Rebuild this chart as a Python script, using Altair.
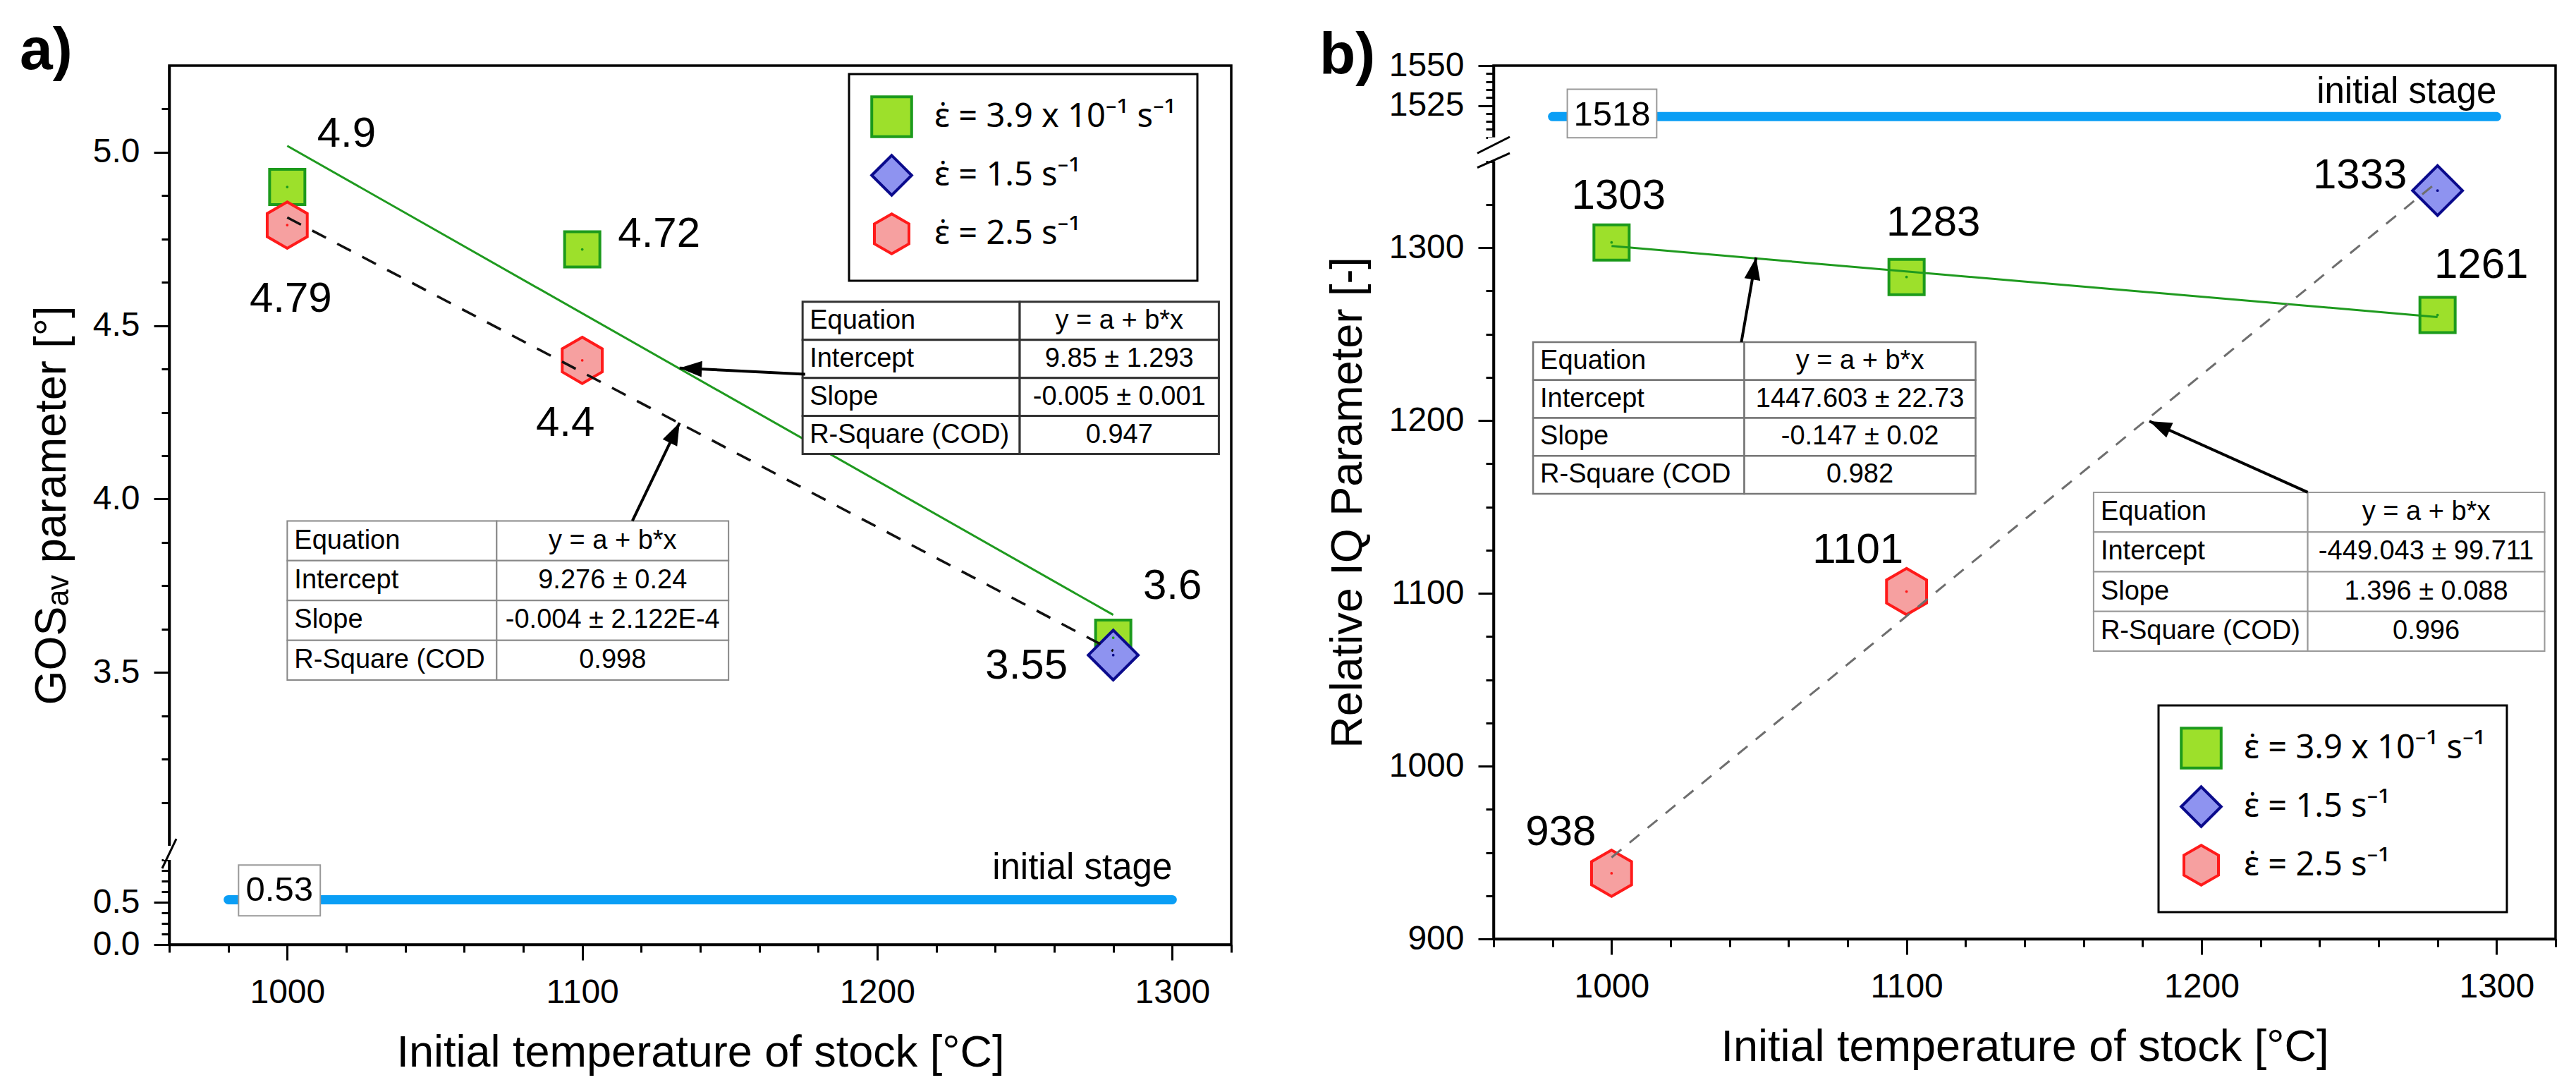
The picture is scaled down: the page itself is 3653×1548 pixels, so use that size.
import json
import math
import altair as alt
import pandas as pd

FONT = "Liberation Sans, Arial, sans-serif"
LEGEND_FONT = "Noto Sans, DejaVu Sans, sans-serif"

# ---------------- data ----------------
SERIES = ["ε̇ = 3.9 x 10⁻¹ s⁻¹", "ε̇ = 1.5 s⁻¹", "ε̇ = 2.5 s⁻¹"]

TEMP_A = [1000, 1100, 1280, 1280, 1000, 1100]
GOS_A = [4.9, 4.72, 3.6, 3.55, 4.79, 4.4]
SER_A = [0, 0, 0, 1, 2, 2]
LABEL_A = ["4.9", "4.72", "3.6", "3.55", "4.79", "4.4"]

TEMP_B = [1000, 1100, 1280, 1280, 1000, 1100]
IQ_B = [1303, 1283, 1261, 1333, 938, 1101]
SER_B = [0, 0, 0, 1, 2, 2]
LABEL_B = ["1303", "1283", "1261", "1333", "938", "1101"]

INITIAL_T = [980, 1300]
INITIAL_A = 0.53
INITIAL_B = 1518
FIT_EXTENT = [1000, 1280]

ROWS = ["Equation", "Intercept", "Slope", "R-Square (COD)"]
ROWS_CUT = ["Equation", "Intercept", "Slope", "R-Square (COD"]
FIT_A_SOLID = ["y = a + b*x", "9.85 ± 1.293", "-0.005 ± 0.001", "0.947"]
FIT_A_DASH = ["y = a + b*x", "9.276 ± 0.24", "-0.004 ± 2.122E-4", "0.998"]
FIT_B_SOLID = ["y = a + b*x", "1447.603 ± 22.73", "-0.147 ± 0.02", "0.982"]
FIT_B_DASH = ["y = a + b*x", "-449.043 ± 99.711", "1.396 ± 0.088", "0.996"]

X_TICKS = list(range(960, 1321, 20))
X_MAJOR = [1000, 1100, 1200, 1300]
Y_TICKS_A = [i * 0.125 for i in range(0, 9)] + [3 + i * 0.125 for i in range(1, 18)]
Y_MAJOR_A = [0, 0.5, 3.5, 4, 4.5, 5]
Y_TICKS_B = list(range(900, 1351, 25)) + list(range(1505, 1551, 5))
Y_MAJOR_B = [900, 1000, 1100, 1200, 1300, 1525, 1550]

# ---------------- style / layout ----------------
SER_SHAPE = ["square", "diamond",
             "M0,-1L0.866,-0.5L0.866,0.5L0,1L-0.866,0.5L-0.866,-0.5Z"]
SER_FILL = ["#9de02b", "#8e93f0", "#f6a0a0"]
SER_STROKE = ["#1c9a1c", "#0a0a8c", "#ff1a1a"]
SER_SIZE = [2500, 5000, 4300]
ARROW_PATH = "M0,0L0.36,1L-0.36,1Z"

W = 1506
HA = 1246
HB = 1238
X_DOMAIN = [960, 1320]
PX_X = W / (X_DOMAIN[1] - X_DOMAIN[0])


def axis(values, major, fmt, title, label_pad, title_pad):
    test = "indexof(%s, datum.value) >= 0" % json.dumps(major)
    return alt.Axis(
        values=values, format=fmt, title=title,
        labelExpr="%s ? datum.label : ''" % test,
        tickSize={"condition": {"test": test, "value": 22}, "value": 11},
        tickWidth=3, tickColor="black", domainColor="black", domainWidth=3.5,
        labelFont=FONT, labelFontSize=48, labelColor="black", labelPadding=label_pad,
        labelOverlap=False, labelFlush=False, labelBound=False,
        titleFont=FONT, titleFontSize=63, titleFontWeight="normal", titleColor="black",
        titlePadding=title_pad, grid=False)


def build_panel(c):
    xs = alt.Scale(domain=X_DOMAIN, nice=False, zero=False)
    ys = alt.Scale(domain=c["ydom"], range=c["yrng"], nice=False, zero=False)
    xax = axis(X_TICKS, X_MAJOR, "d", "Initial temperature of stock [°C]", 22, 30)
    yax = axis(c["yticks"], c["ymajor"], c["yfmt"], c["ytitle"], 20, 26)

    def X(f):
        return alt.X(f, type="quantitative", scale=xs, axis=xax)

    def Y(f):
        return alt.Y(f, type="quantitative", scale=ys, axis=yax)

    df = pd.DataFrame({"T": c["T"], "v": c["v"], "s": c["s"], "lab": c["lab"]})
    df["rate"] = [SERIES[i] for i in df["s"]]
    df["sz"] = [SER_SIZE[i] for i in df["s"]]

    layers = []

    # axis-break eraser
    brk = pd.DataFrame({"x": [X_DOMAIN[0]], "y0": [c["ydom"][1]], "y1": [c["ydom"][2]]})
    layers.append(alt.Chart(brk).mark_rule(color="white", strokeWidth=16)
                  .encode(x=X("x"), y=Y("y0"), y2="y1"))

    # initial stage line
    init = pd.DataFrame({"x0": [INITIAL_T[0]], "x1": [INITIAL_T[1]], "v": [c["init"]]})
    layers.append(alt.Chart(init).mark_rule(color="#0a9ef5", strokeWidth=13, strokeCap="round")
                  .encode(x=X("x0"), x2="x1", y=Y("v")))
    layers.append(alt.Chart(init).mark_text(align="right", baseline="alphabetic", dy=c["init_dy"],
                                            fontSize=51, font=FONT, color="black", text="initial stage")
                  .encode(x=X("x1"), y=Y("v")))
    bx = c["box"]
    bdf = pd.DataFrame({"x0": [bx[0]], "x1": [bx[1]], "y0": [bx[2]], "y1": [bx[3]],
                        "xm": [(bx[0] + bx[1]) / 2], "ym": [(bx[2] + bx[3]) / 2],
                        "t": [c["init_txt"]]})
    layers.append(alt.Chart(bdf).mark_rect(fill="white", stroke="#999999", strokeWidth=2)
                  .encode(x=X("x0"), x2="x1", y=Y("y0"), y2="y1"))
    layers.append(alt.Chart(bdf).mark_text(fontSize=49, font=FONT, color="black", baseline="middle")
                  .encode(x=X("xm"), y=Y("ym"), text="t:N"))

    # markers
    leg = alt.Legend(orient="none", legendX=c["legxy"][0], legendY=c["legxy"][1], title=None,
                     direction="vertical", labelFontSize=47, labelFont=LEGEND_FONT, labelColor="black",
                     labelOffset=30, padding=30, rowPadding=10, strokeColor="black",
                     fillColor="white", symbolStrokeWidth=4, symbolSize=3200, labelLimit=0,
                     symbolOpacity=1)
    layers.append(alt.Chart(df).mark_point(filled=True, strokeWidth=4, opacity=1).encode(
        x=X("T"), y=Y("v"),
        shape=alt.Shape("rate:N", scale=alt.Scale(domain=SERIES, range=SER_SHAPE), legend=leg),
        fill=alt.Fill("rate:N", scale=alt.Scale(domain=SERIES, range=SER_FILL), legend=leg),
        stroke=alt.Stroke("rate:N", scale=alt.Scale(domain=SERIES, range=SER_STROKE), legend=leg),
        size=alt.Size("sz:Q", scale=None),
    ))

    # fitted lines
    layers.append(alt.Chart(df).transform_filter(alt.FieldOneOfPredicate(field="s", oneOf=[0]))
                  .transform_regression("T", "v", extent=FIT_EXTENT)
                  .mark_line(color="#1f9a1f", strokeWidth=3).encode(x=X("T"), y=Y("v")))
    layers.append(alt.Chart(df).transform_filter(alt.FieldOneOfPredicate(field="s", oneOf=[1, 2]))
                  .transform_regression("T", "v", extent=FIT_EXTENT)
                  .mark_line(color=c["dash_color"], strokeWidth=c["dash_w"], strokeDash=c["dash"])
                  .encode(x=X("T"), y=Y("v")))

    # center dots
    layers.append(alt.Chart(df).mark_point(filled=True, size=14, opacity=1, shape="circle").encode(
        x=X("T"), y=Y("v"),
        color=alt.Color("rate:N", scale=alt.Scale(domain=SERIES, range=SER_STROKE), legend=None)))

    # fit tables
    for (x0, xsp, x1, yt, yb, names, vals, col, sw) in c["tables"]:
        h = (yt - yb) / 4.0
        cells = []
        for i in range(4):
            for (a, b) in ((x0, xsp), (xsp, x1)):
                cells.append({"cx0": a, "cx1": b, "cy0": yt - i * h, "cy1": yt - (i + 1) * h})
        layers.append(alt.Chart(pd.DataFrame(cells)).mark_rect(fill="white", stroke=col, strokeWidth=sw)
                      .encode(x=X("cx0"), x2="cx1", y=Y("cy0"), y2="cy1"))
        tdf = pd.DataFrame({"name": names, "val": vals,
                            "ym": [yt - (i + 0.5) * h for i in range(4)],
                            "xl": [x0] * 4, "xc": [(xsp + x1) / 2] * 4})
        layers.append(alt.Chart(tdf).mark_text(align="left", dx=10, baseline="middle", fontSize=38,
                                               font=FONT, color="black")
                      .encode(x=X("xl"), y=Y("ym"), text="name:N"))
        layers.append(alt.Chart(tdf).mark_text(align="center", baseline="middle", fontSize=38,
                                               font=FONT, color="black")
                      .encode(x=X("xc"), y=Y("ym"), text="val:N"))

    # arrows
    arr = pd.DataFrame(c["arrows"], columns=["tx", "ty", "hx", "hy"])
    arr["ang"] = [
        (math.degrees(math.atan2((hx - tx) * PX_X, (hy - ty) * c["ppu"])) + 360) % 360
        for tx, ty, hx, hy in c["arrows"]]
    layers.append(alt.Chart(arr).mark_rule(color="black", strokeWidth=4)
                  .encode(x=X("tx"), y=Y("ty"), x2="hx", y2="hy"))
    layers.append(alt.Chart(arr).mark_point(filled=True, shape=ARROW_PATH, size=4000, color="black", opacity=1)
                  .encode(x=X("hx"), y=Y("hy"), angle=alt.Angle("ang:Q", scale=None)))

    # value labels
    for i in range(len(df)):
        dx, dy = c["offs"][i]
        layers.append(alt.Chart(df.iloc[[i]]).mark_text(dx=dx, dy=dy, fontSize=60, font=FONT,
                                                        color="black", baseline="middle")
                      .encode(x=X("T"), y=Y("v"), text="lab:N"))

    # break slashes
    sl = pd.DataFrame(c["slashes"], columns=["x0", "y0", "x1", "y1"])
    layers.append(alt.Chart(sl).mark_rule(color="black", strokeWidth=3)
                  .encode(x=X("x0"), y=Y("y0"), x2="x1", y2="y1"))

    # panel tag
    layers.append(alt.Chart(pd.DataFrame({"t": [c["tag"]]}))
                  .mark_text(align="left", baseline="alphabetic", fontSize=84, fontWeight="bold",
                             font=FONT, color="black")
                  .encode(x=alt.value(c["tagxy"][0]), y=alt.value(c["tagxy"][1]), text="t:N"))

    return alt.layer(*layers).properties(width=W, height=c["H"])


cfg_a = dict(
    T=TEMP_A, v=GOS_A, s=SER_A, lab=LABEL_A, H=HA,
    ydom=[0, 1.0, 3.0, 5.25], yrng=[HA, HA - 120, HA - 140, 0],
    yticks=Y_TICKS_A, ymajor=Y_MAJOR_A, yfmt=".1f", ytitle="GOSₐᵥ parameter [°]",
    init=INITIAL_A, init_txt="0.53", init_dy=-29, box=[983.5, 1011.2, 0.34, 0.94],
    legxy=[964, 12], dash_color="#111111", dash_w=3.5, dash=[22, 18],
    tables=[(1174.7, 1248.3, 1315.8, 4.569, 4.13, ROWS, FIT_A_SOLID, "#333333", 3),
            (1000.0, 1071.0, 1149.6, 3.937, 3.478, ROWS_CUT, FIT_A_DASH, "#888888", 2)],
    arrows=[(1175.6, 4.36, 1133.0, 4.378), (1117.0, 3.937, 1133.0, 4.22)],
    ppu=1106 / 2.25,
    offs=[(84, -75), (109, -22), (84, -73), (-123, 15), (5, 105), (-24, 89)],
    slashes=[(957.6, 0.9, 962.4, 3.02)],
    tag="a)", tagxy=[-212, 4.5],
)

cfg_b = dict(
    T=TEMP_B, v=IQ_B, s=SER_B, lab=LABEL_B, H=HB,
    ydom=[900, 1350, 1505, 1550], yrng=[HB, HB - 1102.5, HB - 1136.3, 0],
    yticks=Y_TICKS_B, ymajor=Y_MAJOR_B, yfmt="d", ytitle="Relative IQ Parameter [-]",
    init=INITIAL_B, init_txt="1518", init_dy=-19, box=[985.0, 1015.3, 1503, 1535.2],
    legxy=[943, 907], dash_color="#6e6e6e", dash_w=3, dash=[18, 15],
    tables=[(973.4, 1045.0, 1123.4, 1245.3, 1157.6, ROWS_CUT, FIT_B_SOLID, "#777777", 2.5),
            (1163.4, 1236.0, 1316.3, 1158.4, 1066.5, ROWS, FIT_B_DASH, "#999999", 2)],
    arrows=[(1044.0, 1245.3, 1049.0, 1294.3), (1236.0, 1158.4, 1182.3, 1199.6)],
    ppu=1102.5 / 450,
    offs=[(10, -66), (38, -77), (62, -71), (-110, -21), (-72, -58), (-69, -59)],
    slashes=[(954.5, 1346.3, 965.5, 1401.7), (954.5, 1401.7, 965.5, 1505.3)],
    tag="b)", tagxy=[-247, 12.4],
)

pa = build_panel(cfg_a)
pb = build_panel(cfg_b)

chart = (
    alt.hconcat(pa, pb, spacing=372, bounds="flush")
    .resolve_scale(shape="independent", fill="independent", stroke="independent",
                   color="independent")
    .properties(padding={"left": 18, "top": 20, "right": 5, "bottom": 5}, background="white")
    .configure_view(stroke="black", strokeWidth=3.5)
    .configure_legend(strokeWidth=3)
)

chart.save("out.html", embed_options={"renderer": "svg", "actions": False})
